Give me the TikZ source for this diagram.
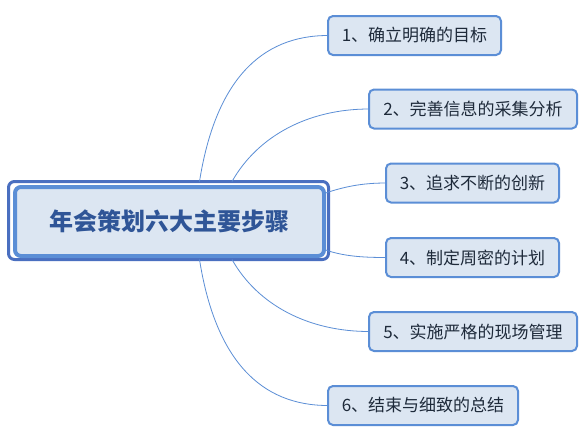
\documentclass[tikz,border=0pt]{standalone}
\usepackage{fontspec}
\newfontfamily\cjk{Noto Sans CJK SC}
\definecolor{boxfill}{HTML}{DCE6F2}
\definecolor{boxline}{HTML}{5B8ED6}
\definecolor{outline}{HTML}{4A6FC0}
\definecolor{maintext}{HTML}{2F5597}
\definecolor{childtext}{HTML}{1E2A3A}
\definecolor{linkcol}{HTML}{5B8ED6}
\tikzset{
  child/.style={draw=boxline, line width=2pt, fill=boxfill, rounded corners=5pt,
    minimum height=39pt, inner sep=0pt, outer sep=0pt, text=childtext,
    font=\cjk\fontsize{17}{19}\selectfont},
  link/.style={draw=linkcol, line width=0.8pt},
}
\begin{document}
\begin{tikzpicture}[x=1pt,y=-1pt]
\useasboundingbox[fill=white] (0,0) rectangle (583,432);
% central topic
\node[draw=outline, line width=3pt, fill=white, rounded corners=6pt,
  minimum width=320pt, minimum height=78pt, outer sep=0pt] (mainout) at (168.5,220.5) {};
\node[draw=boxline, line width=4pt, fill=boxfill, rounded corners=6pt,
  minimum width=309pt, minimum height=69pt, outer sep=0pt, text=maintext,
  font=\cjk\bfseries\fontsize{24}{27}\selectfont] (main) at (169.5,221.5) {年会策划六大主要步骤};
% children
\node[child, minimum width=173pt] (c1) at (414.5,35.5) {1、确立明确的目标};
\node[child, minimum width=208pt] (c2) at (473,109) {2、完善信息的采集分析};
\node[child, minimum width=173pt] (c3) at (472.5,183) {3、追求不断的创新};
\node[child, minimum width=173pt] (c4) at (472.5,257.5) {4、制定周密的计划};
\node[child, minimum width=208pt] (c5) at (473,331.5) {5、实施严格的现场管理};
\node[child, minimum width=190pt] (c6) at (423,405.5) {6、结束与细致的总结};
% connectors
\draw[link] ([xshift=31pt]mainout.north) .. controls +(16,-101) and +(-67,0) .. (c1.west);
\draw[link] ([xshift=63.5pt]mainout.north) .. controls +(26,-46) and +(-60,0) .. (c2.west);
\draw[link] ([xshift=-3pt,yshift=27.5pt]mainout.east) .. controls +(18,-6) and +(-25,0) .. (c3.west);
\draw[link] ([xshift=-3pt,yshift=-29.5pt]mainout.east) .. controls +(18,6) and +(-25,0) .. (c4.west);
\draw[link] ([xshift=63.5pt]mainout.south) .. controls +(26,46) and +(-60,0) .. (c5.west);
\draw[link] ([xshift=31pt]mainout.south) .. controls +(16,101) and +(-67,0) .. (c6.west);
\end{tikzpicture}
\end{document}
